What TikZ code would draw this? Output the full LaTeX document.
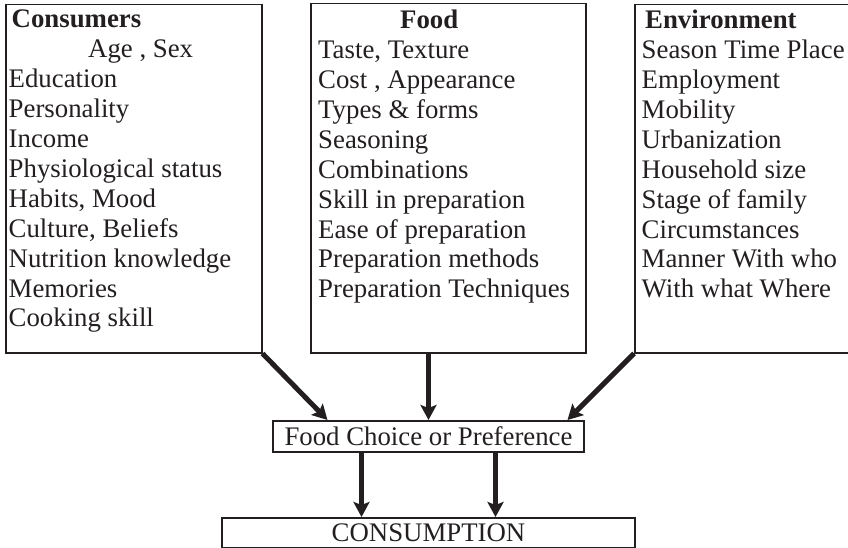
\documentclass[tikz,border=0pt]{standalone}
\usepackage{fontspec}
\setmainfont{Liberation Serif}
\usetikzlibrary{arrows.meta,positioning}
\definecolor{ink}{HTML}{231F20}
\newcommand{\bigtext}{\fontsize{26.8}{29.9}\selectfont}

\begin{document}
\begin{tikzpicture}[x=1pt,y=-1pt]
    \useasboundingbox (0,0) rectangle (848,548);
    \clip (0,0) rectangle (848,548);

    \begin{scope}[every node/.style={rectangle,draw=ink,line width=1.5pt,inner sep=0pt,font=\bigtext,text=ink}]
        \node[anchor=north west, minimum width=256pt, minimum height=348pt] (consumers) at (5,4) {};
        \node[anchor=north west, minimum width=275pt, minimum height=349pt] (food) at (310,3) {};
        \node[anchor=north west, minimum width=240pt, minimum height=348pt] (environment) at (634,4) {};
        \node[anchor=north, minimum width=311pt, minimum height=31pt] (choice) at (428.5,420) {Food Choice or Preference};
        \node[anchor=north, minimum width=413pt, minimum height=30pt] (consumption) at (428.5,517) {CONSUMPTION};
    \end{scope}

    \begin{scope}[every node/.style={font=\bigtext,text=ink,align=left,inner sep=0pt,anchor=north west}]
        \node (consumers-list) at ([shift={(3.5,6)}]consumers.north west) {%
            \hspace*{3pt}\textbf{Consumers}\\
            \hspace*{79.5pt}Age , Sex\\
            Education\\
            Personality\\
            Income\\
            Physiological status\\
            Habits, Mood\\
            Culture, Beliefs\\
            Nutrition knowledge\\
            Memories\\
            Cooking skill};
        \node (food-list) at ([shift={(8,7)}]food.north west) {%
            \hspace*{82pt}\textbf{Food}\\
            Taste, Texture\\
            Cost , Appearance\\
            Types \& forms\\
            Seasoning\\
            Combinations\\
            Skill in preparation\\
            Ease of preparation\\
            Preparation methods\\
            Preparation Techniques};
        \node (environment-list) at ([shift={(7.5,6)}]environment.north west) {%
            \hspace*{3.5pt}\textbf{Environment}\\
            Season Time Place\\
            Employment\\
            Mobility\\
            Urbanization\\
            Household size\\
            Stage of family\\
            Circumstances\\
            Manner With who\\
            With what Where};
    \end{scope}

    \begin{scope}[every edge/.style={draw=ink,line width=5pt,-{Stealth[length=15pt,width=16pt,inset=3pt]}}]
        \path (consumers.south east) edge ([xshift=-101pt]choice.north);
        \path (food.south -| choice.north) edge (choice.north);
        \path (environment.south west) edge ([xshift=139pt]choice.north);

        \path ([xshift=-67pt]choice.south) edge ([xshift=-67pt]consumption.north);
        \path ([xshift=67pt]choice.south) edge ([xshift=67pt]consumption.north);
    \end{scope}
\end{tikzpicture}
\end{document}
